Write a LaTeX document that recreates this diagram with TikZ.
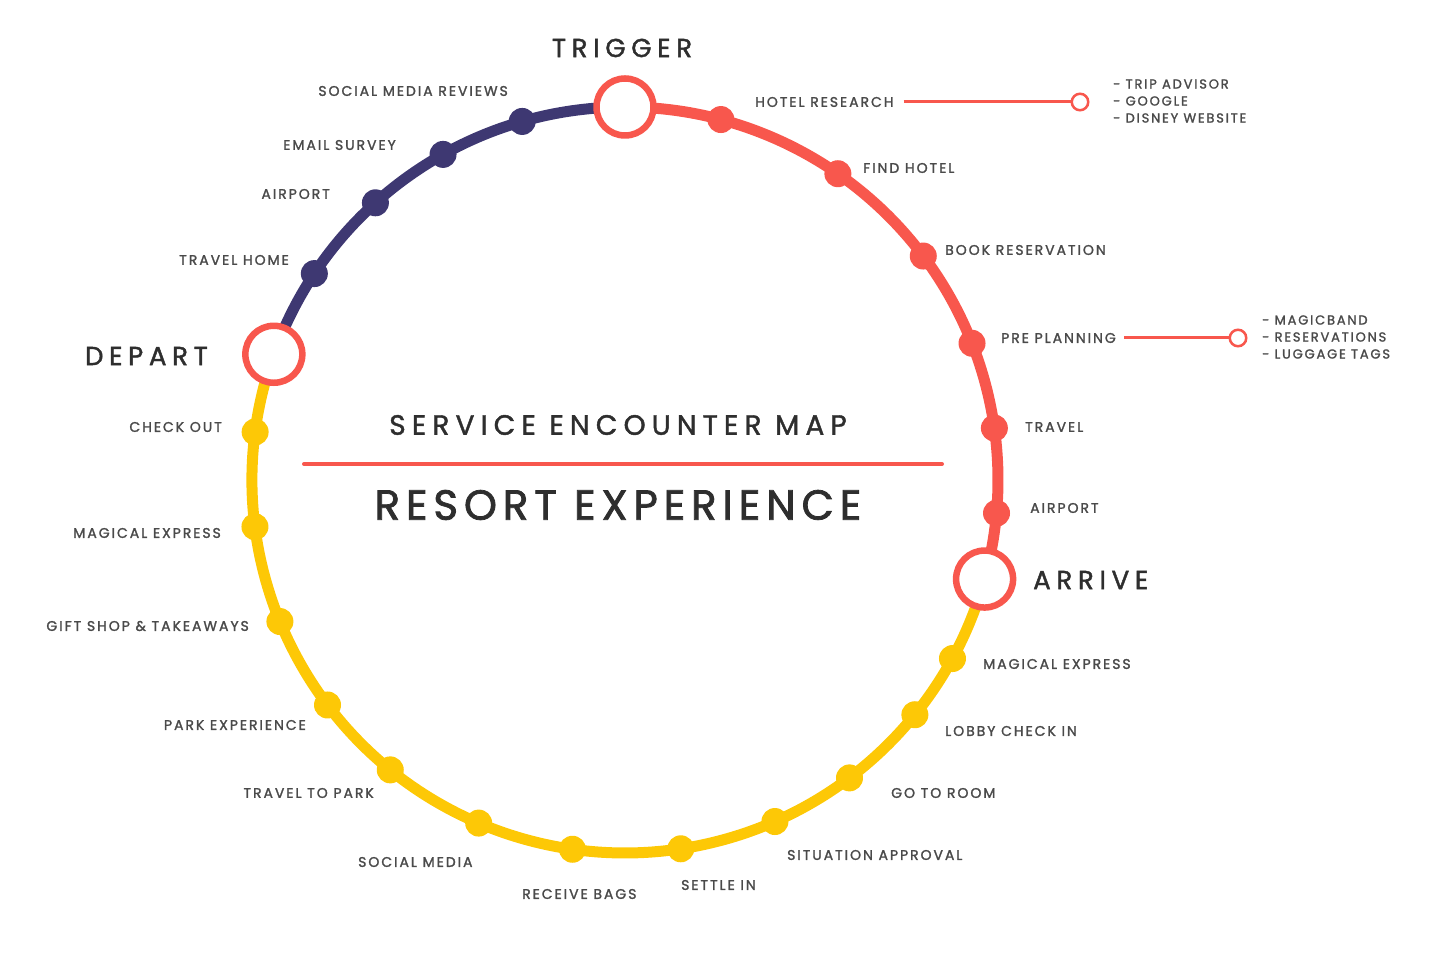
\documentclass[tikz,border=0pt]{standalone}
\usepackage{fontspec}
\setmainfont{Poppins}
\usepackage{tikz}
\usetikzlibrary{positioning}

\definecolor{tripred}{HTML}{F8574D}
\definecolor{tripnavy}{HTML}{3E3872}
\definecolor{tripyellow}{HTML}{FDC806}
\definecolor{labelgrey}{HTML}{4A4A4A}
\definecolor{titlegrey}{HTML}{2E2E2E}

\newfontfamily\labelfont[LetterSpace=14,FakeBold=1.6]{Poppins}
\newfontfamily\titlefont[LetterSpace=22,FakeBold=1.6]{Poppins}
\newfontfamily\headfont[LetterSpace=22,FakeBold=1.4]{Poppins}
\newfontfamily\resortfont[LetterSpace=14,FakeBold=1.8]{Poppins}

\tikzset{
    station/.style={circle,draw=tripred,fill=white,line width=6.5pt,minimum size=57pt,inner sep=0},
    stopdot/.style={circle,fill=#1,minimum size=27pt,inner sep=0},
    sidenote/.style={circle,draw=tripred,fill=white,line width=2.5pt,minimum size=16.5pt,inner sep=0},
    stoplabel/.style={text=labelgrey,font=\labelfont\fontsize{14}{16}\selectfont,inner sep=0},
    notelist/.style={text=labelgrey,font=\labelfont\fontsize{13}{17}\selectfont,inner sep=0,align=left},
    phase/.style={text=titlegrey,font=\titlefont\fontsize{26}{30}\selectfont,inner sep=0}
}

\begin{document}
\begin{tikzpicture}[x=1pt,y=1pt]
    \pgfmathsetmacro{\ringradius}{373}
    \pgfmathsetmacro{\trackwidth}{11}
    \useasboundingbox (0,0) rectangle (1450,956);
    \coordinate (C) at (625,476);

    % the three legs of the journey
    \draw[tripnavy,line width=\trackwidth pt] ([shift={(90:\ringradius)}]C) arc[start angle=90,end angle=160.3,radius=\ringradius];
    \draw[tripred,line width=\trackwidth pt] ([shift={(-15.4:\ringradius)}]C) arc[start angle=-15.4,end angle=90,radius=\ringradius];
    \draw[tripyellow,line width=\trackwidth pt] ([shift={(160.3:\ringradius)}]C) arc[start angle=160.3,end angle=344.6,radius=\ringradius];

    \node[stopdot=tripred] (hotelresearch) at ([shift={(75.1:\ringradius)}]C) {};
    \node[stopdot=tripred] (findhotel) at ([shift={(55.2:\ringradius)}]C) {};
    \node[stopdot=tripred] (bookreservation) at ([shift={(36.9:\ringradius)}]C) {};
    \node[stopdot=tripred] (preplanning) at ([shift={(21.5:\ringradius)}]C) {};
    \node[stopdot=tripred] (travel) at ([shift={(8:\ringradius)}]C) {};
    \node[stopdot=tripred] (airportin) at ([shift={(-5.1:\ringradius)}]C) {};

    \node[stopdot=tripyellow] (expressin) at ([shift={(-28.6:\ringradius)}]C) {};
    \node[stopdot=tripyellow] (lobby) at ([shift={(-39:\ringradius)}]C) {};
    \node[stopdot=tripyellow] (room) at ([shift={(-53:\ringradius)}]C) {};
    \node[stopdot=tripyellow] (approval) at ([shift={(-66.3:\ringradius)}]C) {};
    \node[stopdot=tripyellow] (settle) at ([shift={(-81.4:\ringradius)}]C) {};
    \node[stopdot=tripyellow] (bags) at ([shift={(-98.1:\ringradius)}]C) {};
    \node[stopdot=tripyellow] (social) at ([shift={(-113.1:\ringradius)}]C) {};
    \node[stopdot=tripyellow] (topark) at ([shift={(-129:\ringradius)}]C) {};
    \node[stopdot=tripyellow] (park) at ([shift={(-142.9:\ringradius)}]C) {};
    \node[stopdot=tripyellow] (giftshop) at ([shift={(-157.7:\ringradius)}]C) {};
    \node[stopdot=tripyellow] (expressout) at ([shift={(-172.8:\ringradius)}]C) {};
    \node[stopdot=tripyellow] (checkout) at ([shift={(172.6:\ringradius)}]C) {};

    \node[stopdot=tripnavy] (travelhome) at ([shift={(146.4:\ringradius)}]C) {};
    \node[stopdot=tripnavy] (airportout) at ([shift={(132:\ringradius)}]C) {};
    \node[stopdot=tripnavy] (survey) at ([shift={(119.2:\ringradius)}]C) {};
    \node[stopdot=tripnavy] (reviews) at ([shift={(106:\ringradius)}]C) {};

    \node[station] (trigger) at ([shift={(90:\ringradius)}]C) {};
    \node[station] (arrive) at ([shift={(-15.4:\ringradius)}]C) {};
    \node[station] (depart) at ([shift={(160.3:\ringradius)}]C) {};

    % labels
    \node[phase] (triggerlabel) at (622,908) {TRIGGER};
    \node[phase,anchor=west] (arrivelabel) at (1033,376) {ARRIVE};
    \node[phase,anchor=east] (departlabel) at (208,600) {DEPART};

    \node[stoplabel,anchor=west] (hotelresearchlabel) at (755,854) {HOTEL RESEARCH};
    \node[stoplabel,anchor=west] (findhotellabel) at (863,788) {FIND HOTEL};
    \node[stoplabel,anchor=west] (bookreservationlabel) at (945,706) {BOOK RESERVATION};
    \node[stoplabel,anchor=west] (preplanninglabel) at (1001,618) {PRE PLANNING};
    \node[stoplabel,anchor=west] (travellabel) at (1025,529) {TRAVEL};
    \node[stoplabel,anchor=west] (airportinlabel) at (1030,448) {AIRPORT};
    \node[stoplabel,anchor=west] (expressinlabel) at (983,292) {MAGICAL EXPRESS};
    \node[stoplabel,anchor=west] (lobbylabel) at (945,225) {LOBBY CHECK IN};
    \node[stoplabel,anchor=west] (roomlabel) at (891,163) {GO TO ROOM};
    \node[stoplabel,anchor=west] (approvallabel) at (787,101) {SITUATION APPROVAL};
    \node[stoplabel,anchor=west] (settlelabel) at (681,71) {SETTLE IN};
    \node[stoplabel,anchor=west] (bagslabel) at (522,62) {RECEIVE BAGS};
    \node[stoplabel,anchor=west] (sociallabel) at (358,94) {SOCIAL MEDIA};
    \node[stoplabel,anchor=east] (toparklabel) at (374,163) {TRAVEL TO PARK};
    \node[stoplabel,anchor=east] (parklabel) at (306,231) {PARK EXPERIENCE};
    \node[stoplabel,anchor=east] (giftshoplabel) at (249,330) {GIFT SHOP \& TAKEAWAYS};
    \node[stoplabel,anchor=east] (expressoutlabel) at (221,423) {MAGICAL EXPRESS};
    \node[stoplabel,anchor=east] (checkoutlabel) at (222,529) {CHECK OUT};
    \node[stoplabel,anchor=east] (travelhomelabel) at (289,696) {TRAVEL HOME};
    \node[stoplabel,anchor=east] (airportoutlabel) at (330,762) {AIRPORT};
    \node[stoplabel,anchor=east] (surveylabel) at (396,811) {EMAIL SURVEY};
    \node[stoplabel,anchor=east] (reviewslabel) at (508,865) {SOCIAL MEDIA REVIEWS};

    % side notes
    \node[sidenote] (researchnote) at (1080,854) {};
    \node[notelist,anchor=west] (researchlist) at (1113,855) {- TRIP ADVISOR\\- GOOGLE\\- DISNEY WEBSITE};
    \draw[tripred,line width=3pt] ([xshift=10pt]hotelresearchlabel.east) -- (researchnote);
    \node[sidenote] (planningnote) at (1238,618) {};
    \node[notelist,anchor=west] (planninglist) at (1262,619) {- MAGICBAND\\- RESERVATIONS\\- LUGGAGE TAGS};
    \draw[tripred,line width=3pt] ([xshift=8pt]preplanninglabel.east) -- (planningnote);

    % title in the middle
    \node[text=titlegrey,font=\headfont\fontsize{28}{32}\selectfont,inner sep=0] (maptitle) at (618,531) {SERVICE ENCOUNTER MAP};
    \coordinate (ruleleft) at (304,492);
    \coordinate (ruleright) at (942,492);
    \draw[tripred,line width=4pt,line cap=round] (ruleleft) -- (ruleright);
    \node[text=titlegrey,font=\resortfont\fontsize{42}{46}\selectfont,inner sep=0] (resorttitle) at (618,451) {RESORT EXPERIENCE};
\end{tikzpicture}
\end{document}
